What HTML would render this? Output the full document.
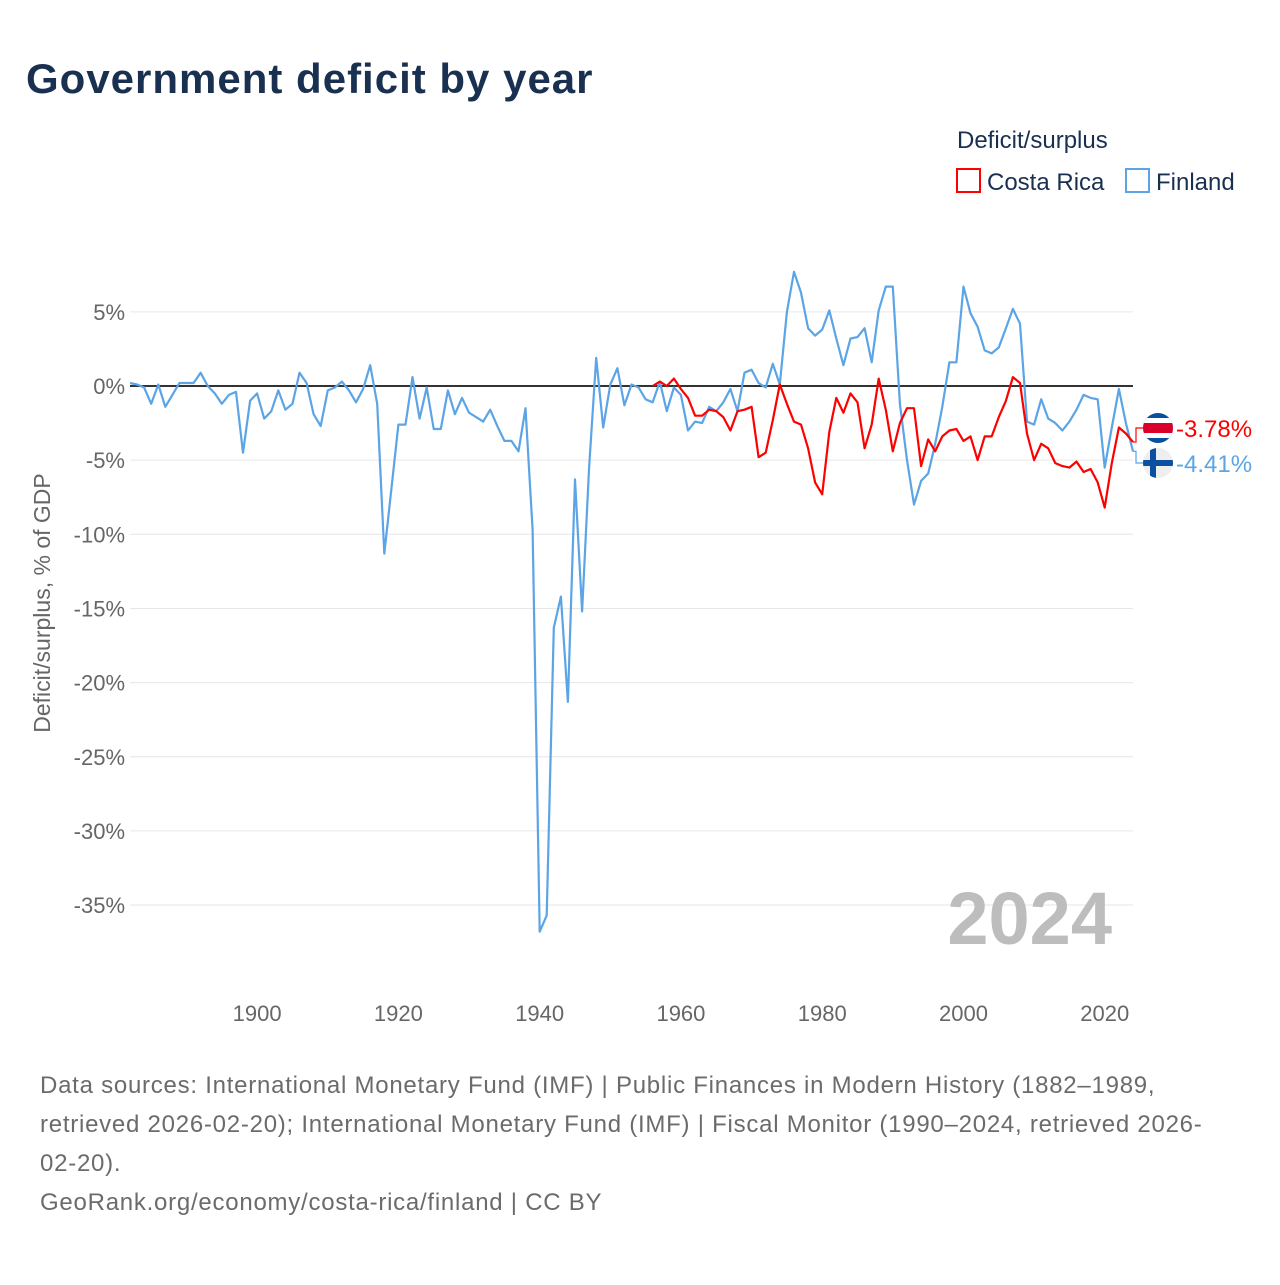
<!DOCTYPE html>
<html><head><meta charset="utf-8">
<style>
body{margin:0;width:1280px;height:1280px;background:#fff;overflow:hidden;font-family:"Liberation Sans",sans-serif;}
svg text{font-family:"Liberation Sans",sans-serif;}
</style></head>
<body>
<svg id="chart" width="1280" height="1280" viewBox="0 0 1280 1280">
<text x="26" y="93" font-size="42" font-weight="bold" fill="#1a3050" letter-spacing="1">Government deficit by year</text>
<g>
<text x="957" y="148" font-size="24" fill="#1a3050">Deficit/surplus</text>
<g>
<rect x="957" y="169" width="23" height="23" fill="none" stroke="#ff0000" stroke-width="2"/>
<text x="987" y="190" font-size="24" fill="#1a3050">Costa Rica</text></g>
<g>
<rect x="1126" y="169" width="23" height="23" fill="none" stroke="#5ba4e6" stroke-width="2"/>
<text x="1156" y="190" font-size="24" fill="#1a3050">Finland</text></g>
</g>
<g id="grid"></g>
<g id="yticks"></g>
<g id="xticks"></g>
<text transform="translate(50,603) rotate(-90)" text-anchor="middle" font-size="23" fill="#666">Deficit/surplus, % of GDP</text>
<text x="1112" y="944" text-anchor="end" font-size="74" font-weight="bold" fill="#bdbdbd">2024</text>
<g id="series"></g>
<g id="endlabels"></g>
<g font-size="24" fill="#6b6b6b" letter-spacing="0.75">
<text x="40" y="1093">Data sources: International Monetary Fund (IMF) | Public Finances in Modern History (1882–1989,</text>
<text x="40" y="1132">retrieved 2026-02-20); International Monetary Fund (IMF) | Fiscal Monitor (1990–2024, retrieved 2026-</text>
<text x="40" y="1171">02-20).</text>
<text x="40" y="1210">GeoRank.org/economy/costa-rica/finland | CC BY</text>
</g>
</svg>
<script>
const finlandStart = 1882;
const finlandValues = [0.2,0.1,-0.1,-1.2,0.1,-1.4,-0.6,0.2,0.2,0.2,0.9,0.0,-0.5,-1.2,-0.6,-0.4,-4.5,-1.0,-0.5,-2.2,-1.7,-0.3,-1.6,-1.2,0.9,0.2,-1.9,-2.7,-0.3,-0.1,0.3,-0.3,-1.1,-0.2,1.4,-1.2,-11.3,-7.0,-2.6,-2.6,0.6,-2.2,-0.1,-2.9,-2.9,-0.3,-1.9,-0.8,-1.8,-2.1,-2.4,-1.6,-2.7,-3.7,-3.7,-4.4,-1.5,-9.7,-36.8,-35.7,-16.3,-14.2,-21.3,-6.3,-15.2,-5.5,1.9,-2.8,0.1,1.2,-1.3,0.1,-0.1,-0.9,-1.1,0.3,-1.7,-0.1,-0.6,-3.0,-2.4,-2.5,-1.4,-1.7,-1.1,-0.2,-1.7,0.9,1.1,0.2,-0.1,1.5,0.1,5.0,7.7,6.3,3.9,3.4,3.8,5.1,3.2,1.4,3.2,3.3,3.9,1.6,5.1,6.7,6.7,-1.2,-5.0,-8.0,-6.4,-5.9,-3.9,-1.4,1.6,1.6,6.7,4.9,4.0,2.4,2.2,2.6,3.9,5.2,4.2,-2.4,-2.6,-0.9,-2.2,-2.5,-3.0,-2.4,-1.6,-0.6,-0.8,-0.9,-5.5,-2.8,-0.2,-2.5,-4.41];
const costaRicaStart = 1956;
const costaRicaValues = [0.0,0.3,0.0,0.5,-0.2,-0.8,-2.0,-2.0,-1.6,-1.7,-2.1,-3.0,-1.7,-1.6,-1.4,-4.8,-4.5,-2.3,0.1,-1.2,-2.4,-2.6,-4.2,-6.5,-7.3,-3.1,-0.8,-1.8,-0.5,-1.1,-4.2,-2.6,0.5,-1.6,-4.4,-2.5,-1.5,-1.5,-5.4,-3.6,-4.4,-3.4,-3.0,-2.9,-3.7,-3.4,-5.0,-3.4,-3.4,-2.1,-1.0,0.6,0.2,-3.2,-5.0,-3.9,-4.2,-5.2,-5.4,-5.5,-5.1,-5.8,-5.6,-6.5,-8.2,-5.2,-2.8,-3.2,-3.78];
const yTicks = [5,0,-5,-10,-15,-20,-25,-30,-35];
const xTicks = [1900,1920,1940,1960,1980,2000,2020];
const endLabels = ["-3.78%","-4.41%"];

const NS="http://www.w3.org/2000/svg";
const X0=130,X1=1133,Y0=1882,Y1=2024;
function xs(y){return X0+(y-Y0)*(X1-X0)/(Y1-Y0);}
function ys(v){return 386-v*14.83;}
function mk(tag,attrs,parent){const e=document.createElementNS(NS,tag);for(const k in attrs)e.setAttribute(k,attrs[k]);parent.appendChild(e);return e;}
const grid=document.getElementById('grid'),yt=document.getElementById('yticks'),xt=document.getElementById('xticks');
yTicks.forEach(v=>{
  if(v!==0){const l=mk('line',{x1:X0,x2:X1,y1:ys(v),y2:ys(v),stroke:'#e6e6e6','stroke-width':1},grid);
  
  }
  const t=mk('text',{x:125,y:ys(v)+8,'text-anchor':'end','font-size':22,fill:'#666'},yt);
  t.textContent=v+'%';
  
  
});
xTicks.forEach(y=>{
  const t=mk('text',{x:xs(y),y:1021,'text-anchor':'middle','font-size':22,fill:'#666'},xt);
  t.textContent=y;
  
  
});
const zl=mk('line',{x1:X0,x2:X1,y1:ys(0),y2:ys(0),stroke:'#333','stroke-width':2},grid);


const ser=document.getElementById('series');
function line(start,vals,color,name){
  const pts=vals.map((v,i)=>xs(start+i).toFixed(1)+','+ys(v).toFixed(1)).join(' ');
  const p=mk('polyline',{points:pts,fill:'none',stroke:color,'stroke-width':2.2,'stroke-linejoin':'round'},ser);
  
  
}
line(finlandStart,finlandValues,'#5ba4e6','line-finland');
line(costaRicaStart,costaRicaValues,'#ff0000','line-costa-rica');
const el=document.getElementById('endlabels');
const crY=ys(costaRicaValues[costaRicaValues.length-1]), fiY=ys(finlandValues[finlandValues.length-1]);
const lab=[{y:crY,ly:428,c:'#ff0000',t:endLabels[0],n:'costa-rica'},{y:fiY,ly:463,c:'#5ba4e6',t:endLabels[1],n:'finland'}];
lab.forEach(o=>{
  const c=mk('polyline',{points:`${X1},${o.y} 1136,${o.y} 1136,${o.ly} 1143,${o.ly}`,fill:'none',stroke:o.c,'stroke-width':1.2},el);
  
  
  const g=mk('g',{},el);
  
  
  const cp=mk('clipPath',{id:'cp'+o.n},g);
  mk('circle',{cx:1158,cy:o.ly,r:15},cp);
  const gg=mk('g',{'clip-path':'url(#cp'+o.n+')'},g);
  if(o.n==='costa-rica'){
    mk('rect',{x:1140,y:o.ly-16,width:36,height:32,fill:'#0a4fa0'},gg);
    mk('rect',{x:1140,y:o.ly-10,width:36,height:20,fill:'#fff'},gg);
    mk('rect',{x:1140,y:o.ly-5,width:36,height:10,fill:'#d9002b'},gg);
  } else {
    mk('rect',{x:1140,y:o.ly-16,width:36,height:32,fill:'#eee'},gg);
    mk('rect',{x:1140,y:o.ly-3,width:36,height:6,fill:'#0a4fa0'},gg);
    mk('rect',{x:1150,y:o.ly-16,width:6,height:32,fill:'#0a4fa0'},gg);
  }
  const t=mk('text',{x:1176,y:o.ly+9,'font-size':24,fill:o.c},el);
  t.textContent=o.t;
  
  
});
</script>
</body></html>
